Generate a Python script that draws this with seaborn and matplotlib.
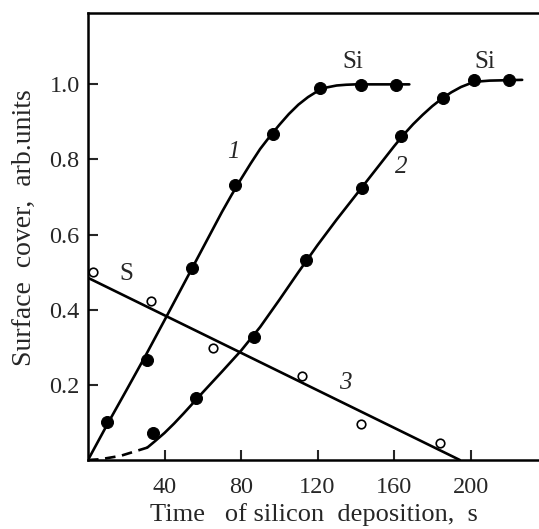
import matplotlib
matplotlib.use("Agg")
import matplotlib.pyplot as plt
import seaborn as sns

# measured points (filled circles) for curves 1 and 2, open circles for curve 3
c1_x = [9.7, 30.6, 54.5, 77.1, 96.5, 121.5, 142.5, 161.0]
c1_y = [0.100, 0.267, 0.512, 0.731, 0.868, 0.991, 0.999, 0.999]
c2_x = [34.1, 56.7, 86.7, 113.9, 143.0, 163.8, 185.4, 202.0, 220.0]
c2_y = [0.073, 0.165, 0.327, 0.533, 0.723, 0.863, 0.963, 1.012, 1.012]
c3_x = [2.5, 33.0, 65.5, 112.0, 142.8, 184.0]
c3_y = [0.500, 0.424, 0.298, 0.224, 0.095, 0.046]

# fitted curves
fit1_x = [0, 10, 20, 30, 40, 50, 60, 70, 75, 80, 85, 90, 95, 100, 105, 110, 115,
          120, 125, 130, 135, 140, 168]
fit1_y = [0, 0.094, 0.185, 0.277, 0.372, 0.468, 0.564, 0.660, 0.705, 0.748, 0.789,
          0.828, 0.861, 0.892, 0.921, 0.946, 0.966, 0.982, 0.992, 0.997, 0.999, 1.0, 1.0]
fit2_dash_x = [0, 6.5, 17, 24, 31]
fit2_dash_y = [0, 0.002, 0.011, 0.022, 0.033]
fit2_x = [31, 35, 40, 45, 50, 55, 60, 70, 80, 90, 100, 110, 120, 130, 140, 150, 160,
          165, 170, 175, 180, 185, 190, 195, 200, 205, 210, 227]
fit2_y = [0.033, 0.050, 0.072, 0.097, 0.124, 0.152, 0.180, 0.235, 0.291, 0.354, 0.426,
          0.500, 0.572, 0.640, 0.705, 0.770, 0.835, 0.866, 0.894, 0.919, 0.942, 0.962,
          0.979, 0.993, 1.003, 1.008, 1.010, 1.012]
fit3_x = [0, 194.4]
fit3_y = [0.485, 0.0]

x_ticks = [40, 80, 120, 160, 200]
y_ticks = [0.2, 0.4, 0.6, 0.8, 1.0]

sns.set_style("ticks")
plt.rcParams['font.family'] = ['Liberation Serif', 'DejaVu Serif']

fig = plt.figure(figsize=(5.39, 5.29), dpi=100)
ax = fig.add_axes([88/539, 69/529, 451/539, 447/529])

lw = 1.9
sns.lineplot(x=fit1_x, y=fit1_y, ax=ax, color='black', lw=lw, sort=False)
sns.lineplot(x=fit2_x, y=fit2_y, ax=ax, color='black', lw=lw, sort=False)
sns.lineplot(x=fit2_dash_x, y=fit2_dash_y, ax=ax, color='black', lw=lw, sort=False,
             linestyle=(0, (4, 2.5)))
sns.lineplot(x=fit3_x, y=fit3_y, ax=ax, color='black', lw=lw, sort=False)

sns.scatterplot(x=c1_x, y=c1_y, ax=ax, color='black', s=75, edgecolor='black', zorder=5)
sns.scatterplot(x=c2_x, y=c2_y, ax=ax, color='black', s=75, edgecolor='black', zorder=5)
sns.scatterplot(x=c3_x, y=c3_y, ax=ax, facecolor='white', s=38, edgecolor='black',
                linewidth=1.2, zorder=5)

ax.set_xlim(0, 235.8)
ax.set_ylim(0, 1.19)
ax.set_xticks(x_ticks)
ax.set_xticklabels([str(v) for v in x_ticks])
ax.set_yticks(y_ticks)
ax.set_yticklabels([f"{v:.1f}" for v in y_ticks])
ax.tick_params(direction='in', length=7, width=1.5, labelsize=17.5)
ax.tick_params(axis='x', pad=12.5)
ax.tick_params(axis='y', pad=6)

for side in ['left', 'bottom', 'top']:
    ax.spines[side].set_linewidth(1.8)
    ax.spines[side].set_color('black')
ax.spines['right'].set_visible(False)

ax.set_xlabel("Time   of silicon  deposition,  s", fontsize=19, labelpad=3)
ax.set_ylabel("Surface  cover,  arb.units", fontsize=20)
ax.yaxis.set_label_coords(-0.114, 0.52)

ax.text(138.6, 1.06, "Si", fontsize=18, ha='center', va='center')
ax.text(207.6, 1.06, "Si", fontsize=18, ha='center', va='center')
ax.text(76, 0.82, "1", fontsize=18, style='italic', ha='center', va='center')
ax.text(164, 0.78, "2", fontsize=18, style='italic', ha='center', va='center')
ax.text(134.6, 0.206, "3", fontsize=18, style='italic', ha='center', va='center')
ax.text(20.2, 0.495, "S", fontsize=18, ha='center', va='center')

fig.savefig("out.png", dpi=100)
